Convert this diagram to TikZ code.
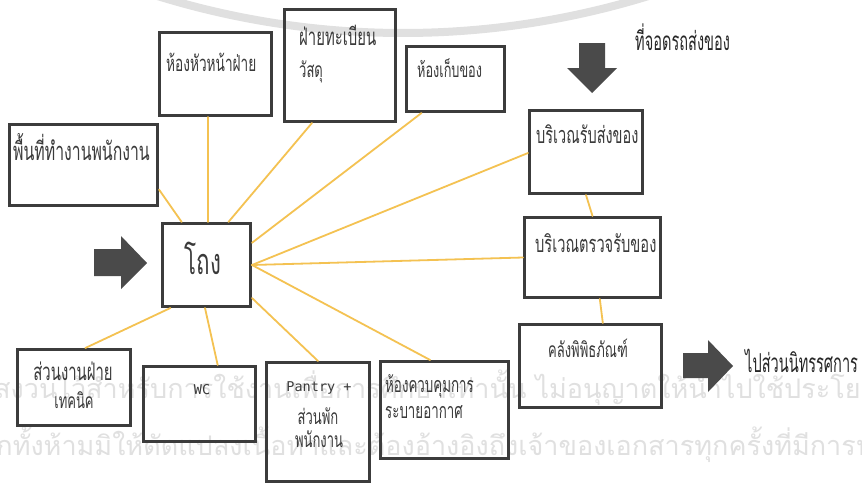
\documentclass[tikz,border=0pt]{standalone}
\usepackage{fontspec}
\newfontfamily\roomfont[Script=Thai,FakeStretch=0.62]{Loma}
\newfontfamily\notefont[Script=Thai,FakeStretch=0.56]{Loma}
\newfontfamily\sealfont[Script=Thai]{Loma}
\newfontfamily\pantryfont{DejaVu Sans Mono}
\definecolor{ink}{HTML}{3A3A3A}
\definecolor{frame}{HTML}{3C3C3C}
\definecolor{linkc}{HTML}{F4C252}
\definecolor{shade}{HTML}{4A4A4A}
\definecolor{sealc}{HTML}{E0E0E0}

% room box from its outer corners (x1,y1) and (x2,y2)
\newcommand\roombox[5]{%
  \pgfmathsetmacro\bw{#4-#2-2.6}%
  \pgfmathsetmacro\bh{#5-#3-2.6}%
  \node[room, minimum width=\bw pt, minimum height=\bh pt] (#1) at ({(#2+#4)/2},{(#3+#5)/2}) {};}
\newcommand\fs[1]{\roomfont\fontsize{#1}{#1}\selectfont}

\begin{document}
\begin{tikzpicture}[x=1pt,y=-1pt,
  room/.style={draw=frame, line width=2.6pt, inner sep=0pt},
  link/.style={draw=linkc, line width=1.8pt, line cap=round},
  lbl/.style={inner sep=0pt, text=ink, anchor=base west, font=\fs{23}},
  clbl/.style={lbl, anchor=base},
  note/.style={inner sep=0pt, text=black!85, anchor=base west, font=\notefont\fontsize{26}{28}\selectfont},
  seal/.style={inner sep=0pt, text=sealc, anchor=base west, font=\sealfont\fontsize{27}{30}\selectfont},
  bigarrow/.style={fill=shade, draw=none}]
\useasboundingbox (0,0) rectangle (862,485);
\fill[white] (0,0) rectangle (862,485);

% faint seal and notice lines in the background
\begin{scope}
\clip (0,0) rectangle (862,485);
\draw[sealc, line width=8pt] (403,-800) ++(115:833) arc[start angle=115, end angle=65, radius=833];
\node[seal] (notice1) at (-6,398) {สงวนไว้สำหรับการใช้งานเพื่อการศึกษาเท่านั้น ไม่อนุญาตให้นำไปใช้ประโยชน์};
\node[seal] (notice2) at (-20,455) {อีกทั้งห้ามมิให้ดัดแปลงเนื้อหาและต้องอ้างอิงถึงเจ้าของเอกสารทุกครั้งที่มีการนำไปใช้};
\end{scope}

% rooms
\roombox{head}{158}{31}{273}{117}
\roombox{reg}{283}{8}{397}{123}
\roombox{store}{405}{45}{506}{113}
\roombox{staff}{8}{123}{159}{207}
\roombox{hall}{161}{222}{252}{308}
\roombox{recv}{528}{109}{644}{195}
\roombox{insp}{523}{216}{662}{299}
\roombox{museum}{518}{323}{663}{409}
\roombox{tech}{16}{348}{132}{427}
\roombox{wc}{142}{365}{257}{443}
\roombox{pantry}{265}{361}{371}{483}
\roombox{vent}{379}{360}{510}{460}

% room names
\node[lbl, font=\fs{22}] (head-t) at (166,71) {ห้องหัวหน้าฝ่าย};
\node[lbl, font=\fs{24}] (reg-t1) at (299,45) {ฝ่ายทะเบียน};
\node[lbl, font=\fs{21}] (reg-t2) at (299,77) {วัสดุ};
\node[lbl, font=\fs{20.5}] (store-t) at (417,77) {ห้องเก็บของ};
\node[lbl, font=\fs{25.5}] (staff-t) at (13,160) {พื้นที่ทำงานพนักงาน};
\node[clbl, font=\fs{36}] (hall-t) at (203,274) {โถง};
\node[lbl, font=\fs{23.4}] (recv-t) at (536,143) {บริเวณรับส่งของ};
\node[lbl, font=\fs{23.6}] (insp-t) at (535,252) {บริเวณตรวจรับของ};
\node[clbl, font=\fs{21}] (museum-t) at (588,357) {คลังพิพิธภัณฑ์};
\node[clbl, font=\fs{24}] (tech-t1) at (73,380) {ส่วนงานฝ่าย};
\node[clbl, font=\fs{21}] (tech-t2) at (74,408) {เทคนิค};
\node[clbl, font=\pantryfont\fontsize{13.5}{16}\selectfont] (wc-t) at (202,394) {WC};
\node[clbl, font=\pantryfont\fontsize{13.5}{16}\selectfont] (pantry-t1) at (319,391) {Pantry +};
\node[clbl, font=\fs{21}] (pantry-t2) at (318,424) {ส่วนพัก};
\node[clbl, font=\fs{21}] (pantry-t3) at (319,447) {พนักงาน};
\node[lbl, font=\fs{21.5}] (vent-t1) at (385,392) {ห้องควบคุมการ};
\node[lbl, font=\fs{21.5}] (vent-t2) at (385,418) {ระบายอากาศ};

% links from the hall and along the goods route
\draw[link] (hall.120) -- (staff.342);
\draw[link] (hall.88) -- (head.260);
\draw[link] (hall.63) -- (reg.244);
\draw[link] (hall.26) -- (store.225);
\draw[link] (hall.0) -- (recv.181);
\draw[link] (hall.0) -- (insp.180);
\draw[link] (hall.0) -- (vent.106);
\draw[link] (hall.324) -- (pantry.90);
\draw[link] (hall.268) -- (wc.65);
\draw[link] (hall.230) -- (tech.74);
\draw[link] (recv.270) -- (insp.90);
\draw[link] (insp.280) -- (museum.74);

% entrance, delivery and exit arrows
\fill[bigarrow] (94,249) -- (121,249) -- (121,236) -- (147,263) -- (121,289) -- (121,276) -- (94,276) -- cycle;
\fill[bigarrow] (579,43) -- (605,43) -- (605,68) -- (617,68) -- (592,93) -- (567,68) -- (579,68) -- cycle;
\fill[bigarrow] (683,353) -- (708,353) -- (708,340) -- (733,366) -- (708,392) -- (708,378) -- (683,378) -- cycle;

% outside notes
\node[note] (dock-t) at (635,50) {ที่จอดรถส่งของ};
\node[note] (exit-t) at (745,372) {ไปส่วนนิทรรศการ};
\end{tikzpicture}
\end{document}
